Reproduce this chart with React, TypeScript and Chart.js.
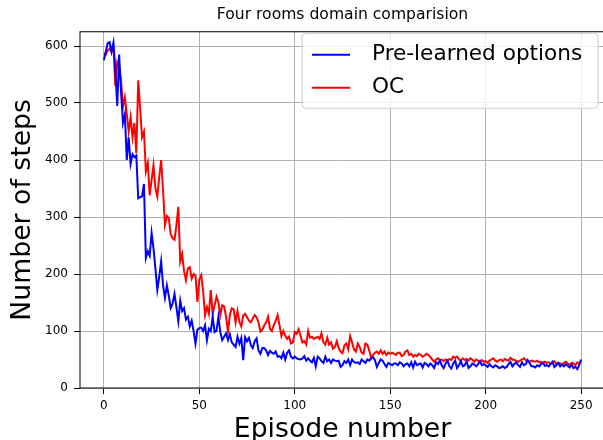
import React, { useEffect, useRef } from "react";
import { Chart, registerables } from "chart.js";

Chart.register(...registerables);

const chartTitle = "Four rooms domain comparision";
const xTitle = "Episode number";
const yTitle = "Number of steps";
const seriesLabels = ["Pre-learned options", "OC"];
const seriesColors = ["#0000ff", "#ff0000"];
const xTicks = [0, 50, 100, 150, 200, 250];
const yTicks = [0, 100, 200, 300, 400, 500, 600];

const episodes = Array.from({ length: 251 }, (_, i) => i);

const preLearned = [
  575, 590, 605, 607, 590, 606, 560, 495, 585, 520,
  465, 480, 400, 440, 393, 410, 405, 408, 333, 335,
  336, 358, 228, 240, 232, 272, 245, 210, 172, 195,
  222, 180, 158, 180, 162, 140, 148, 165, 142, 117,
  153, 135, 140, 120, 125, 108, 118, 100, 78, 102,
  105, 106, 100, 110, 84, 104, 100, 125, 98, 100,
  125, 98, 84, 90, 96, 84, 94, 80, 76, 72,
  90, 78, 88, 49, 89, 82, 88, 75, 70, 82,
  87, 66, 60, 70, 70, 66, 58, 65, 62, 60,
  64, 55, 56, 52, 62, 50, 62, 66, 55, 52,
  55, 52, 51, 50, 52, 56, 48, 52, 48, 45,
  53, 38, 55, 52, 47, 44, 55, 47, 50, 44,
  50, 48, 47, 48, 37, 40, 47, 44, 50, 40,
  50, 46, 44, 45, 42, 50, 47, 44, 50, 48,
  52, 54, 49, 37, 44, 50, 48, 42, 37, 44,
  42, 40, 43, 43, 40, 45, 43, 38, 42, 43,
  38, 45, 36, 46, 40, 42, 43, 36, 44, 42,
  38, 43, 40, 35, 45, 42, 48, 40, 35, 43,
  48, 38, 34, 43, 48, 35, 40, 47, 38, 40,
  47, 35, 38, 43, 41, 38, 42, 47, 40, 42,
  40, 37, 42, 38, 36, 40, 38, 35, 36, 38,
  35, 37, 42, 46, 38, 42, 45, 40, 37, 45,
  40, 42, 49, 44, 38, 38, 36, 40, 38, 42,
  44, 39, 40, 38, 42, 46, 37, 40, 44, 38,
  41, 38, 42, 39, 36, 41, 35, 37, 33, 40,
  50,
];

const oc = [
  587, 585, 592, 595, 590, 600, 530, 572, 563, 540,
  493, 510, 480, 450, 475, 440, 465, 412, 540, 490,
  440, 450, 380, 395, 338, 365, 391, 350, 336, 370,
  400, 347, 286, 302, 298, 270, 263, 260, 285, 318,
  222, 235, 205, 189, 210, 212, 192, 200, 197, 151,
  190, 198, 170, 128, 142, 130, 172, 130, 145, 160,
  150, 128, 145, 143, 125, 99, 128, 140, 138, 115,
  135, 116, 108, 127, 130, 124, 118, 115, 122, 128,
  124, 115, 99, 102, 110, 115, 125, 104, 100, 110,
  118, 128, 110, 91, 100, 92, 86, 90, 78, 80,
  98, 95, 103, 92, 80, 82, 76, 100, 88, 90,
  86, 88, 90, 86, 96, 80, 76, 88, 76, 80,
  69, 72, 82, 70, 64, 61, 75, 78, 68, 91,
  80, 68, 64, 78, 72, 62, 60, 78, 76, 66,
  52, 58, 62, 64, 60, 66, 60, 64, 58, 62,
  60, 62, 60, 58, 62, 62, 56, 58, 64, 66,
  58, 60, 55, 58, 56, 60, 58, 55, 57, 60,
  58, 54, 50, 46, 50, 52, 49, 50, 47, 50,
  48, 51, 49, 55, 53, 55, 50, 48, 52, 49,
  51, 48, 52, 50, 46, 50, 48, 46, 49, 46,
  47, 44, 48, 50, 52, 48, 46, 49, 50, 47,
  51, 49, 48, 53, 50, 49, 48, 46, 48, 50,
  52, 49, 47, 46, 48, 47, 46, 48, 45, 46,
  44, 46, 44, 45, 43, 44, 47, 42, 44, 43,
  41, 44, 46, 43, 41, 44, 43, 40, 45, 44,
  45,
];

const FONT = "'DejaVu Sans', sans-serif";

const framePlugin = {
  id: "mplFrame",
  afterDatasetsDraw(chart: any) {
    const { ctx, chartArea: a } = chart;
    ctx.save();
    ctx.strokeStyle = "#000";
    ctx.lineWidth = 1;
    ctx.strokeRect(a.left, a.top, a.right - a.left, a.bottom - a.top);
    ctx.restore();
  },
};

const titlePlugin = {
  id: "mplTitle",
  afterDraw(chart: any) {
    const { ctx, chartArea: a } = chart;
    ctx.save();
    ctx.fillStyle = "#000";
    ctx.font = `15.6px ${FONT}`;
    ctx.textAlign = "center";
    ctx.textBaseline = "alphabetic";
    ctx.fillText(chartTitle, (a.left + a.right) / 2, a.top - 13);
    ctx.restore();
  },
};

const legendPlugin = {
  id: "mplLegend",
  afterDraw(chart: any) {
    const { ctx, chartArea: a } = chart;
    const bx = a.right - 303;
    const by = a.top + 1.5;
    const bw = 296;
    const bh = 75;
    const r = 4;
    ctx.save();
    ctx.beginPath();
    ctx.moveTo(bx + r, by);
    ctx.lineTo(bx + bw - r, by);
    ctx.quadraticCurveTo(bx + bw, by, bx + bw, by + r);
    ctx.lineTo(bx + bw, by + bh - r);
    ctx.quadraticCurveTo(bx + bw, by + bh, bx + bw - r, by + bh);
    ctx.lineTo(bx + r, by + bh);
    ctx.quadraticCurveTo(bx, by + bh, bx, by + bh - r);
    ctx.lineTo(bx, by + r);
    ctx.quadraticCurveTo(bx, by, bx + r, by);
    ctx.closePath();
    ctx.fillStyle = "rgba(255,255,255,0.8)";
    ctx.fill();
    ctx.strokeStyle = "#cccccc";
    ctx.lineWidth = 1;
    ctx.stroke();
    chart.data.datasets.forEach((ds: any, i: number) => {
      const y = by + 21.5 + i * 33;
      ctx.beginPath();
      ctx.strokeStyle = ds.borderColor;
      ctx.lineWidth = 2;
      ctx.moveTo(bx + 10, y);
      ctx.lineTo(bx + 48, y);
      ctx.stroke();
      ctx.fillStyle = "#000";
      ctx.font = `21.6px ${FONT}`;
      ctx.textAlign = "left";
      ctx.textBaseline = "middle";
      ctx.fillText(ds.label, bx + 70, y);
    });
    ctx.restore();
  },
};

export default function App() {
  const ref = useRef<HTMLCanvasElement | null>(null);

  useEffect(() => {
    if (!ref.current) return;
    const datasets = [preLearned, oc].map((vals, i) => ({
      label: seriesLabels[i],
      data: episodes.map((e, j) => ({ x: e, y: vals[j] })),
      borderColor: seriesColors[i],
      backgroundColor: seriesColors[i],
      borderWidth: 2,
      pointRadius: 0,
      tension: 0,
      fill: false,
    }));
    const chart = new Chart(ref.current, {
      type: "line",
      data: { datasets },
      options: {
        animation: false,
        responsive: false,
        devicePixelRatio: 1,
        layout: { padding: { top: 31.75, right: 3, left: 0, bottom: 0 } },
        plugins: {
          legend: { display: false },
          title: { display: false },
          tooltip: { enabled: false },
        },
        scales: {
          x: {
            type: "linear",
            min: -12.5,
            max: 262.5,
            afterBuildTicks: (s: any) => {
              s.ticks = xTicks.map((v) => ({ value: v }));
            },
            afterFit: (s: any) => {
              s.height = 52;
            },
            grid: {
              color: "#b0b0b0",
              lineWidth: 1,
              drawTicks: true,
              tickLength: 6,
              tickColor: "#000",
            },
            border: { display: false },
            ticks: {
              color: "#000",
              font: { family: FONT, size: 12 },
              padding: 5,
              maxRotation: 0,
              autoSkip: false,
            },
            title: {
              display: true,
              text: xTitle,
              color: "#000",
              font: { family: FONT, size: 26.7 },
              padding: { top: 0, bottom: -6 },
            },
          },
          y: {
            type: "linear",
            min: 0,
            max: 625,
            afterBuildTicks: (s: any) => {
              s.ticks = yTicks.map((v) => ({ value: v }));
            },
            afterFit: (s: any) => {
              s.width = 80;
            },
            grid: {
              color: "#b0b0b0",
              lineWidth: 1,
              drawTicks: true,
              tickLength: 6,
              tickColor: "#000",
            },
            border: { display: false },
            ticks: {
              color: "#000",
              font: { family: FONT, size: 12 },
              padding: 6,
              autoSkip: false,
            },
            title: {
              display: true,
              text: yTitle,
              color: "#000",
              font: { family: FONT, size: 26.7 },
              padding: { top: 7, bottom: 0 },
            },
          },
        },
      },
      plugins: [framePlugin, titlePlugin, legendPlugin],
    });
    return () => chart.destroy();
  }, []);

  return (
    <div
      style={{
        position: "fixed",
        left: 0,
        top: 0,
        width: 603,
        height: 440,
        overflow: "hidden",
        background: "#fff",
      }}
    >
      <canvas ref={ref} width={608} height={440} style={{ display: "block" }} />
    </div>
  );
}
